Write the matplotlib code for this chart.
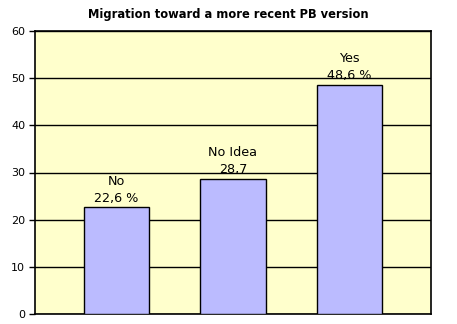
import matplotlib
matplotlib.use("Agg")
import matplotlib.pyplot as plt

# answers and percentages
categories = ["No", "No Idea", "Yes"]
values = [22.6, 28.7, 48.6]
value_labels = ["22,6 %", "28,7", "48,6 %"]
positions = [1, 2, 3]

fig = plt.figure(figsize=(4.57, 3.24), dpi=100)
ax = fig.add_axes([35 / 457, 10 / 324, 396 / 457, 283 / 324])
ax.set_facecolor('#FFFFCC')

ax.bar(positions, values, width=0.56, color='#BBBBFF', edgecolor='black',
       linewidth=1, zorder=3)

# two-line labels above each bar
for x, v, cat, lab in zip(positions, values, categories, value_labels):
    ax.annotate(cat + "\n" + lab, (x, v), xytext=(0, 2), textcoords='offset points',
                ha='center', va='bottom', fontsize=9.2, linespacing=1.35, zorder=4)

ax.set_xlim(0.3, 3.7)
ax.set_ylim(0, 60)
ax.set_yticks(range(0, 61, 10))
ax.set_xticks([])
ax.tick_params(axis='y', length=4, width=1, labelsize=8, pad=3)
ax.grid(axis='y', color='black', linewidth=1, zorder=1)
for s in ax.spines.values():
    s.set_linewidth(1.2)

fig.suptitle("Migration toward a more recent PB version", fontsize=8.3,
             fontweight='bold', y=0.975)

fig.savefig("out.png", dpi=100)
